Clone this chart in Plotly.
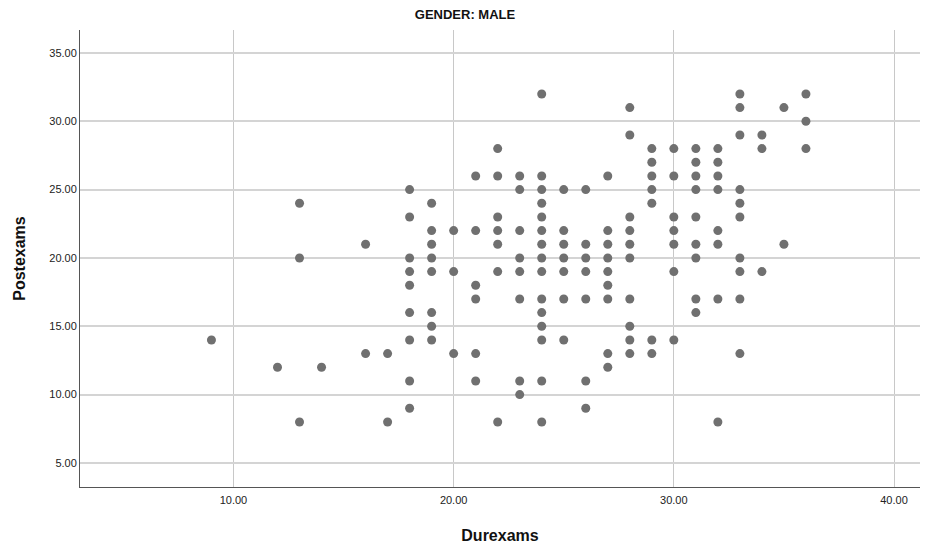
import plotly.graph_objects as go

# Duration of exams (x) vs post-exam score (y), male respondents
durexams = (
    [9, 12, 13, 13, 13, 14, 16, 16, 17, 17]
    + [18] * 9
    + [19] * 8
    + [20] * 3
    + [21] * 6
    + [22] * 7
    + [23] * 8
    + [24] * 15
    + [25] * 7
    + [26] * 7
    + [27] * 9
    + [28] * 10
    + [29] * 7
    + [30] * 7
    + [31] * 9
    + [32] * 8
    + [33] * 10
    + [34] * 3
    + [35] * 2
    + [36] * 3
)
postexams = (
    [14, 12, 24, 20, 8, 12, 21, 13, 13, 8]
    + [25, 23, 20, 19, 18, 16, 14, 11, 9]          # 18
    + [24, 22, 21, 20, 19, 16, 15, 14]             # 19
    + [22, 19, 13]                                 # 20
    + [26, 22, 18, 17, 13, 11]                     # 21
    + [28, 26, 23, 22, 21, 19, 8]                  # 22
    + [26, 25, 22, 20, 19, 17, 11, 10]             # 23
    + [32, 26, 25, 24, 23, 22, 21, 20, 19, 17, 16, 15, 14, 11, 8]  # 24
    + [25, 22, 21, 20, 19, 17, 14]                 # 25
    + [25, 21, 20, 19, 17, 11, 9]                  # 26
    + [26, 22, 21, 20, 19, 18, 17, 13, 12]         # 27
    + [31, 29, 23, 22, 21, 20, 17, 15, 14, 13]     # 28
    + [28, 27, 26, 25, 24, 14, 13]                 # 29
    + [28, 26, 23, 22, 21, 19, 14]                 # 30
    + [28, 27, 26, 25, 23, 21, 20, 17, 16]         # 31
    + [28, 27, 26, 25, 22, 21, 17, 8]              # 32
    + [32, 31, 29, 25, 24, 23, 20, 19, 17, 13]     # 33
    + [29, 28, 19]                                 # 34
    + [31, 21]                                     # 35
    + [32, 30, 28]                                 # 36
)

x_ticks = [10, 20, 30, 40]
y_ticks = [5, 10, 15, 20, 25, 30, 35]

narrow = "Liberation Sans Narrow, Arial Narrow, Liberation Sans, Arial, sans-serif"

fig = go.Figure(
    go.Scatter(
        x=durexams,
        y=postexams,
        mode="markers",
        marker=dict(color="#707070", size=9, line=dict(width=0)),
        showlegend=False,
    )
)

fig.update_layout(
    width=930,
    height=545,
    margin=dict(l=80, r=10, t=30, b=58),
    paper_bgcolor="white",
    plot_bgcolor="white",
    title=dict(
        text="<b>GENDER: MALE</b>",
        x=0.5,
        xanchor="center",
        y=0.973,
        yanchor="middle",
        font=dict(family=narrow, size=13, color="#111111"),
    ),
)

fig.update_xaxes(
    range=[3.03, 41.18],
    tickvals=x_ticks,
    ticktext=[f"{v:.2f}" for v in x_ticks],
    tickfont=dict(family=narrow, size=11, color="#222222"),
    ticklabelstandoff=3,
    automargin=False,
    showgrid=True,
    gridcolor="#c8c8c8",
    gridwidth=1,
    zeroline=False,
    showline=True,
    linecolor="#555555",
    linewidth=1,
    ticks="",
    title=dict(
        text="<b>Durexams</b>",
        font=dict(family="Liberation Sans, Arial, sans-serif", size=16, color="#111111"),
        standoff=24,
    ),
)

fig.update_yaxes(
    range=[3.24, 36.68],
    tickvals=y_ticks,
    ticktext=[f"{v:.2f}" for v in y_ticks],
    tickfont=dict(family=narrow, size=11, color="#222222"),
    automargin=False,
    showgrid=True,
    gridcolor="#d4d4d4",
    gridwidth=2,
    zeroline=False,
    showline=True,
    linecolor="#555555",
    linewidth=1,
    ticks="",
    title=dict(
        text="<b>Postexams</b>",
        font=dict(family="Liberation Sans, Arial, sans-serif", size=16, color="#111111"),
        standoff=19,
    ),
)

fig.write_html("out.html")
